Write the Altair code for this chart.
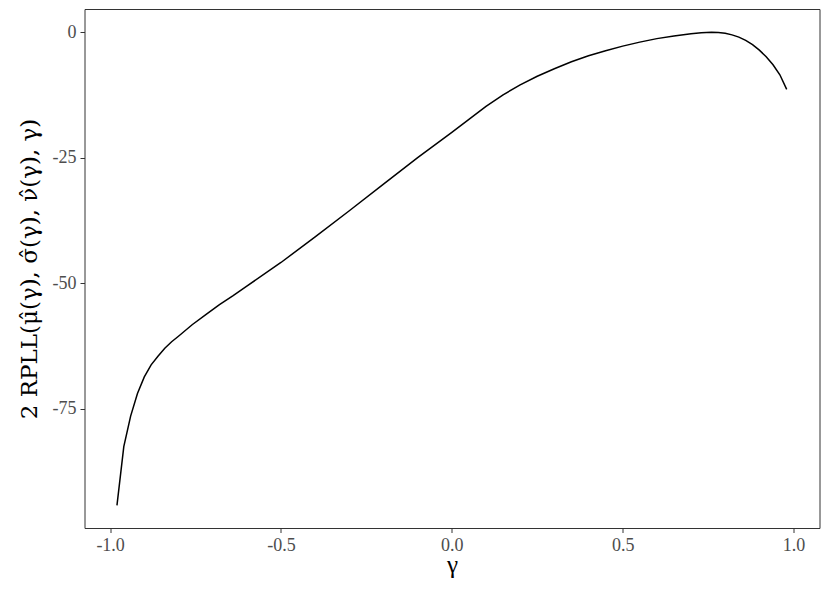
import altair as alt
import pandas as pd

gamma = [-0.98, -0.96, -0.94, -0.92, -0.90, -0.88, -0.86, -0.84, -0.82, -0.80,
         -0.76, -0.72, -0.68, -0.64, -0.60, -0.50, -0.40, -0.30, -0.20, -0.10,
         0.00, 0.05, 0.10, 0.15, 0.20, 0.25, 0.30, 0.35, 0.40, 0.45, 0.50,
         0.55, 0.60, 0.65, 0.70, 0.73, 0.76, 0.78, 0.80, 0.82, 0.84, 0.86, 0.88,
         0.90, 0.92, 0.94, 0.96, 0.98]
rpll = [-94.3, -82.6, -76.5, -72.0, -68.7, -66.3, -64.6, -63.0, -61.7, -60.6,
        -58.3, -56.3, -54.3, -52.5, -50.6, -45.9, -40.8, -35.6, -30.3, -25.0,
        -20.0, -17.4, -14.8, -12.5, -10.5, -8.8, -7.3, -5.9, -4.7, -3.7, -2.8,
        -2.0, -1.3, -0.8, -0.35, -0.15, -0.05, -0.08, -0.25, -0.55, -1.0, -1.65, -2.5,
        -3.6, -4.9, -6.5, -8.5, -11.4]

x_ticks = [-1.0, -0.5, 0.0, 0.5, 1.0]
y_ticks = [0, -25, -50, -75]

df = pd.DataFrame({"gamma": gamma, "rpll": rpll})

FONT = "Liberation Serif"

chart = alt.Chart(df).mark_line(color="black", strokeWidth=1.5).encode(
    x=alt.X("gamma:Q",
            scale=alt.Scale(domain=[-1.075, 1.076], nice=False, zero=False),
            axis=alt.Axis(values=x_ticks, title="γ", grid=False,
                          labelExpr="replace(format(datum.value, '.1f'), '\u2212', '-')",
                          titleFontSize=25,
                          titleBaseline="alphabetic",
                          titleY=44)),
    y=alt.Y("rpll:Q",
            scale=alt.Scale(domain=[-98.8, 4.6], nice=False, zero=False),
            axis=alt.Axis(values=y_ticks, grid=False,
                          title="2 RPLL(\u03bc\u0302(γ), \u03c3\u0302(γ), \u03bd\u0302(γ), γ)",
                          labelExpr="replace(format(datum.value, 'd'), '\u2212', '-')",
                          titleFont="DejaVu Serif",
                          titleFontSize=23,
                          titleBaseline="alphabetic",
                          titleX=-48)),
).properties(
    width=735,
    height=519,
    autosize=alt.AutoSizeParams(type="none"),
    padding={"left": 76.5, "top": 1, "right": 2, "bottom": 56},
).configure_view(
    stroke="#333333", strokeWidth=1, fill="white"
).configure_axis(
    domain=False,
    tickColor="#333333",
    tickSize=4.5,
    labelPadding=4,
    labelFont=FONT,
    labelFontSize=18,
    labelColor="#4D4D4D",
    titleFont=FONT,
    titleFontWeight="normal",
    titleColor="black",
)

chart.save("out.html", embed_options={"renderer": "svg", "actions": False})
